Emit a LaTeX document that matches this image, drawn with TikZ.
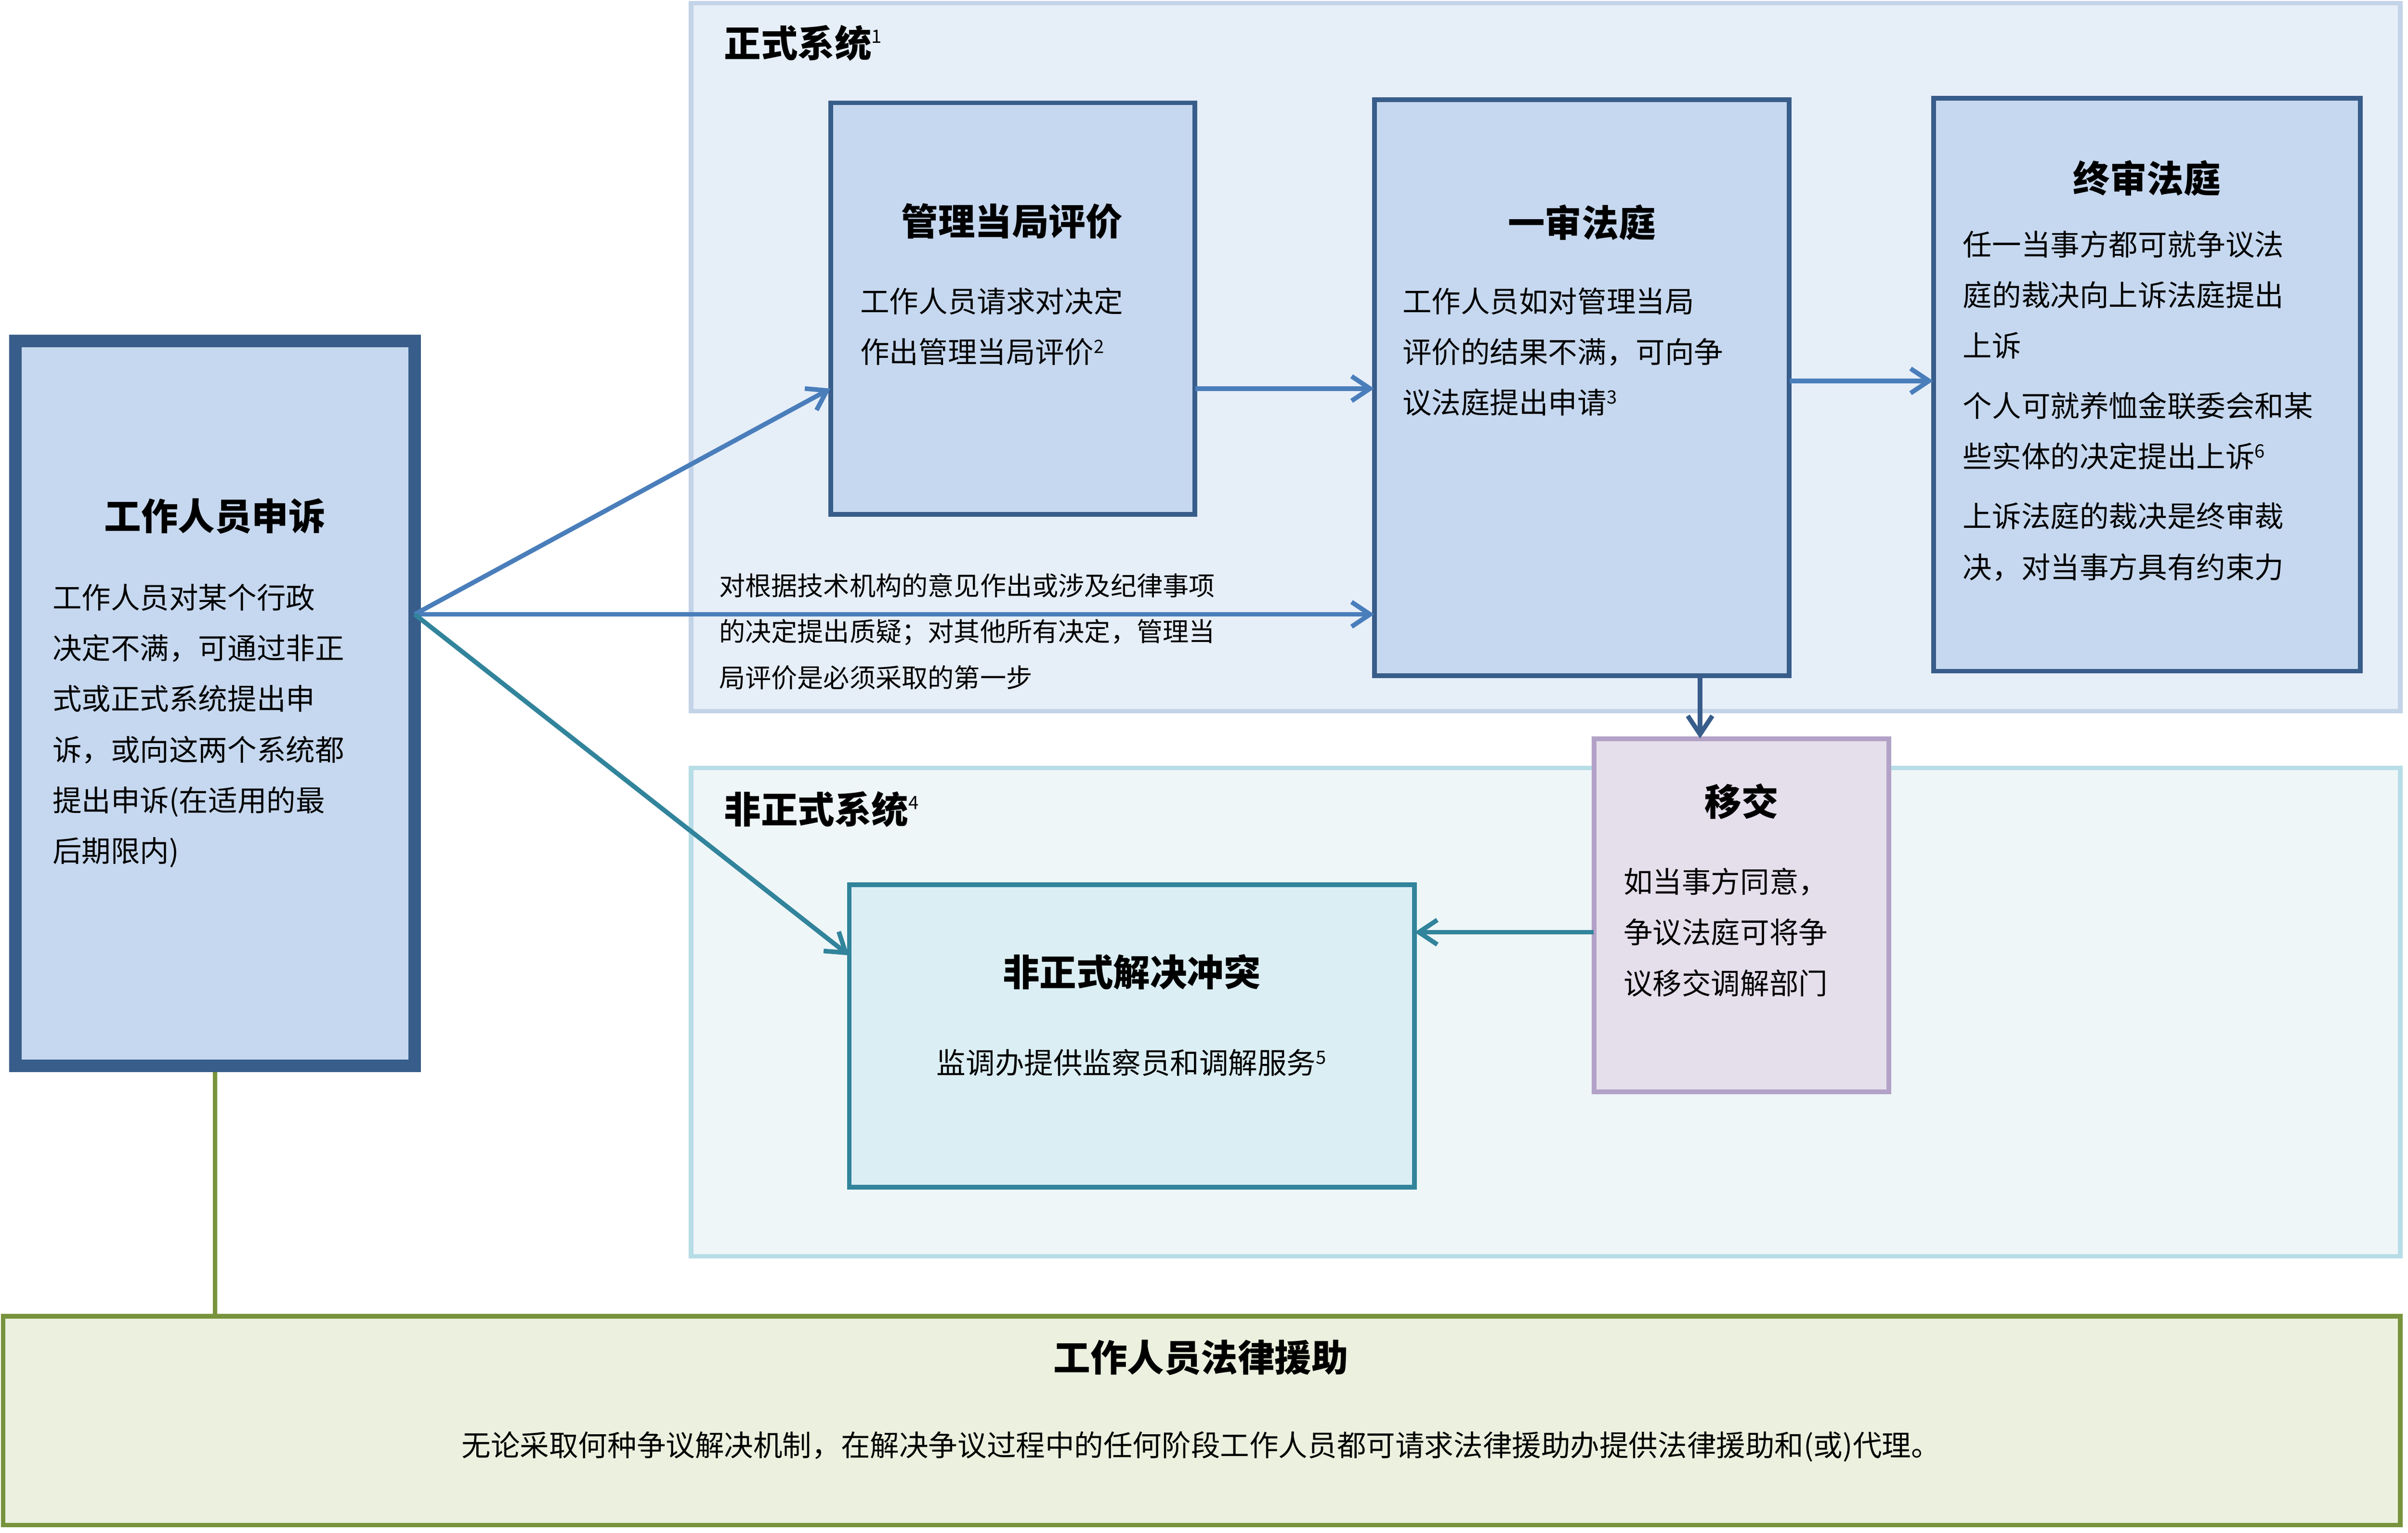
\documentclass[tikz,border=0pt]{standalone}
\usepackage{fontspec}
\setmainfont{Noto Sans CJK SC}
\usetikzlibrary{arrows.meta}
\definecolor{fbg}{HTML}{E6EEF8}\definecolor{fbd}{HTML}{C3D3E8}
\definecolor{ibg}{HTML}{EEF6F8}\definecolor{ibd}{HTML}{B7DDE6}
\definecolor{bfill}{HTML}{C6D8EF}\definecolor{bdraw}{HTML}{385D8A}
\definecolor{rfill}{HTML}{E5DFEC}\definecolor{rdraw}{HTML}{B3A2C7}
\definecolor{infill}{HTML}{DBEEF4}\definecolor{indraw}{HTML}{31849B}
\definecolor{gfill}{HTML}{EBF1DE}\definecolor{gdraw}{HTML}{77933C}
\definecolor{arr}{HTML}{4A7EBB}\definecolor{tarr}{HTML}{31849B}
\tikzset{
 boxs/.style={draw=bdraw,fill=bfill,line width=3pt},
 ttl/.style={font=\fontsize{24}{28}\selectfont\bfseries,anchor=center},
 bod/.style={font=\fontsize{19}{33}\selectfont,align=left,anchor=north west,inner sep=0},
 ar/.style={-{Straight Barb[length=12pt,width=16pt]},line width=3pt,draw=arr}
}
\begin{document}
\begin{tikzpicture}[x=1pt,y=-1pt]
\useasboundingbox (0,0) rectangle (1568,998);
\draw[fill=fbg,draw=fbd,line width=3pt] (450,2) rectangle (1563,463);
\draw[fill=ibg,draw=ibd,line width=3pt] (450,500) rectangle (1563,818);
\node[anchor=west,font=\fontsize{24}{28}\selectfont\bfseries] at (468,28) {正式系统\textsuperscript{\fontsize{12}{12}\selectfont\mdseries 1}};
\node[anchor=west,font=\fontsize{24}{28}\selectfont\bfseries] at (468,527) {非正式系统\textsuperscript{\fontsize{12}{12}\selectfont\mdseries 4}};
% left
\draw[draw=bdraw,fill=bfill,line width=8pt] (10,222) rectangle (270,694);
\node (L) at (140,458) [minimum width=260pt,minimum height=472pt] {};
\node[ttl] at (140,336) {工作人员申诉};
\node[bod] at (34,380) {工作人员对某个行政\\决定不满，可通过非正\\式或正式系统提出申\\诉，或向这两个系统都\\提出申诉(在适用的最\\后期限内)};
% mgmt
\draw[boxs] (541,67) rectangle (778,335);
\node (M) at (659.5,201) [minimum width=237pt,minimum height=268pt] {};
\node[ttl] at (659,144) {管理当局评价};
\node[bod] at (560,187) {工作人员请求对决定\\作出管理当局评价\textsuperscript{\fontsize{12}{12}\selectfont 2}};
% first instance
\draw[boxs] (895,65) rectangle (1165,440);
\node (F) at (1030,252.5) [minimum width=270pt,minimum height=375pt] {};
\node[ttl] at (1030,145) {一审法庭};
\node[bod] at (913,187) {工作人员如对管理当局\\评价的结果不满，可向争\\议法庭提出申请\textsuperscript{\fontsize{12}{12}\selectfont 3}};
% final
\draw[boxs] (1259,64) rectangle (1537,437);
\node (A) at (1398,250.5) [minimum width=278pt,minimum height=373pt] {};
\node[ttl] at (1398,116) {终审法庭};
\node[bod] at (1278,150) {任一当事方都可就争议法\\庭的裁决向上诉法庭提出\\上诉};
\node[bod] at (1278,255) {个人可就养恤金联委会和某\\些实体的决定提出上诉\textsuperscript{\fontsize{12}{12}\selectfont 6}};
\node[bod] at (1278,327) {上诉法庭的裁决是终审裁\\决，对当事方具有约束力};
% referral
\draw[draw=rdraw,fill=rfill,line width=3pt] (1038,481) rectangle (1230,711);
\node (R) at (1134,596) [minimum width=192pt,minimum height=230pt] {};
\node[ttl] at (1134,522) {移交};
\node[bod] at (1057,565) {如当事方同意，\\争议法庭可将争\\议移交调解部门};
% informal
\draw[draw=indraw,fill=infill,line width=3pt] (553,576) rectangle (921,773);
\node (I) at (737,674.5) [minimum width=368pt,minimum height=197pt] {};
\node[ttl] at (737,633) {非正式解决冲突};
\node[font=\fontsize{19}{33}\selectfont] at (737,692) {监调办提供监察员和调解服务\textsuperscript{\fontsize{12}{12}\selectfont 5}};
% legal aid
\draw[draw=gdraw,fill=gfill,line width=3pt] (2,857) rectangle (1563,993);
\node (G) at (782,925) [minimum width=1561pt,minimum height=136pt] {};
\node[ttl] at (782,884) {工作人员法律援助};
\node[font=\fontsize{19}{33}\selectfont] at (782,942) {无论采取何种争议解决机制，在解决争议过程中的任何阶段工作人员都可请求法律援助办提供法律援助和(或)代理。};
\draw[draw=gdraw,line width=3pt] (140,698) -- (G.north -| 140,0);
% note text
\node[font=\fontsize{17}{30}\selectfont,align=left,anchor=north west,inner sep=0] at (468,373) {对根据技术机构的意见作出或涉及纪律事项\\的决定提出质疑；对其他所有决定，管理当\\局评价是必须采取的第一步};
% arrows
\coordinate (LO) at (270,400);
\draw[ar] (LO) -- (M.west |- 0,253);
\draw[ar] (LO) -- (F.west |- 0,400);
\draw[ar,draw=tarr] (LO) -- (I.west |- 0,622);
\draw[ar] (M.east |- 0,253) -- (F.west |- 0,253);
\draw[ar] (F.east |- 0,248) -- (A.west |- 0,248);
\draw[ar,draw=bdraw] (F.south -| 1107,0) -- (R.north -| 1107,0);
\draw[ar,draw=tarr] (R.west |- 0,607) -- (I.east |- 0,607);
\end{tikzpicture}
\end{document}
